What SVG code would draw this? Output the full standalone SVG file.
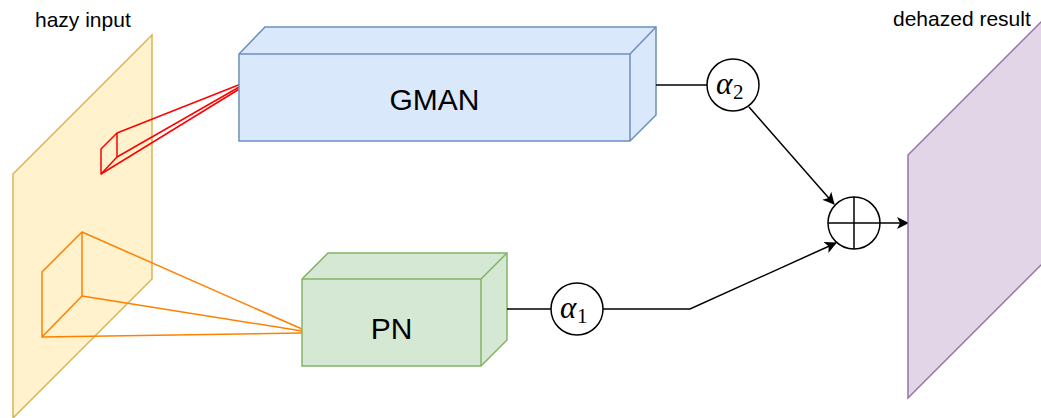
<svg xmlns="http://www.w3.org/2000/svg" width="1041" height="418" viewBox="0 0 1041 418">
  <defs>
    <marker id="arrow" viewBox="0 0 12 12" refX="11" refY="6" markerWidth="12" markerHeight="12" markerUnits="userSpaceOnUse" orient="auto">
      <path d="M0,0 L12,6 L0,12 L3,6 Z" fill="#000"/>
    </marker>
  </defs>
  <style>
    .label { font-family: "Liberation Sans", Arial, sans-serif; fill: #000; }
    .title { font-size: 21px; }
    .block { font-size: 30px; text-anchor: middle; }
    .math { font-family: "Liberation Serif", "Times New Roman", serif; font-style: italic; font-size: 31px; fill: #000; }
    .sub { font-family: "Liberation Serif", "Times New Roman", serif; font-size: 21px; fill: #000; }
    .wire { fill: none; stroke: #000; stroke-width: 1.5; }
    .ring { fill: #fff; stroke: #000; stroke-width: 1.5; }
    .red { fill: none; stroke: #ff0000; stroke-width: 1.5; stroke-linejoin: round; }
    .orange { fill: none; stroke: #ff8000; stroke-width: 1.5; stroke-linejoin: round; }
  </style>

  <!-- input image plane -->
  <g id="hazy-input">
    <polygon points="13,174 152,35 152,279 13,418" fill="#fff2cc" stroke="#d6b656" stroke-width="1.5"/>
    <text class="label title" x="35" y="27">hazy input</text>
  </g>

  <!-- receptive fields -->
  <g id="gman-field">
    <polygon class="red" points="101,149 117,133 117,157 101,174"/>
    <polyline class="red" points="117,133 241,84"/>
    <polyline class="red" points="117,157 241,86"/>
    <polyline class="red" points="101,174 241,88"/>
  </g>
  <g id="pn-field">
    <polygon class="orange" points="42,272 82,232 82,296 42,337"/>
    <polyline class="orange" points="82,232 302,329"/>
    <polyline class="orange" points="82,296 302,331"/>
    <polyline class="orange" points="42,337 302,333"/>
  </g>

  <!-- GMAN block -->
  <g id="gman">
    <polygon points="239,54 265,27 656,27 656,115 630,141 239,141" fill="#dae8fc" stroke="#6c8ebf" stroke-width="1.5"/>
    <polyline points="239,54 630,54 656,27" fill="none" stroke="#6c8ebf" stroke-width="1.5"/>
    <line x1="630" y1="54" x2="630" y2="141" stroke="#6c8ebf" stroke-width="1.5"/>
    <text class="label block" x="434.5" y="110">GMAN</text>
  </g>

  <!-- PN block -->
  <g id="pn">
    <polygon points="302,279 328,253 507,253 507,340 481,366 302,366" fill="#d5e8d4" stroke="#82b366" stroke-width="1.5"/>
    <polyline points="302,279 481,279 507,253" fill="none" stroke="#82b366" stroke-width="1.5"/>
    <line x1="481" y1="279" x2="481" y2="366" stroke="#82b366" stroke-width="1.5"/>
    <text class="label block" x="391.5" y="339">PN</text>
  </g>

  <!-- connectors -->
  <g id="connectors">
    <line class="wire" x1="656" y1="85" x2="707" y2="85"/>
    <line class="wire" x1="507" y1="309" x2="551" y2="309"/>
    <polyline class="wire" points="603,309 690,309 836,243" marker-end="url(#arrow)"/>
    <line class="wire" x1="749" y1="107" x2="834" y2="204" marker-end="url(#arrow)"/>
    <line class="wire" x1="880" y1="223" x2="908" y2="223" marker-end="url(#arrow)"/>
  </g>

  <!-- weights -->
  <g id="alpha2">
    <circle class="ring" cx="733" cy="85" r="26"/>
    <text class="math" x="716" y="94">α</text>
    <text class="sub" x="733" y="99">2</text>
  </g>
  <g id="alpha1">
    <circle class="ring" cx="577" cy="309" r="26"/>
    <text class="math" x="560" y="318">α</text>
    <text class="sub" x="577" y="323">1</text>
  </g>

  <!-- sum -->
  <g id="sum">
    <circle class="ring" cx="854" cy="223" r="26"/>
    <line class="wire" x1="828" y1="223" x2="880" y2="223"/>
    <line class="wire" x1="854" y1="197" x2="854" y2="249"/>
  </g>

  <!-- output image plane -->
  <g id="dehazed-result">
    <polygon points="908,155 1050,13 1050,256 908,398" fill="#e1d5e7" stroke="#9673a6" stroke-width="1.5"/>
    <text class="label title" x="893" y="26">dehazed result</text>
  </g>
</svg>
